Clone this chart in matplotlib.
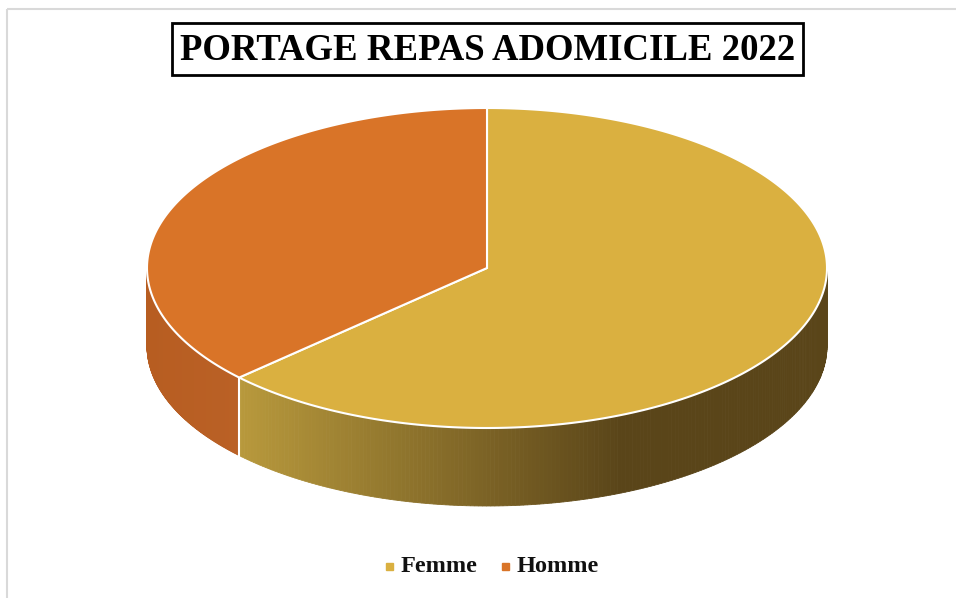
import numpy as np
import matplotlib
import matplotlib.pyplot as plt
from matplotlib.patches import Rectangle
from matplotlib.colors import to_rgb

matplotlib.use('agg')

# Données
labels = ['Femme', 'Homme']
values = [63, 37]
top_colors = ['#DAB040', '#D97428']
# couleurs des côtés (gauche -> droite)
side_colors = [('#B8993C', '#5A4519'), ('#B75D21', '#BA6126')]
title = 'PORTAGE REPAS ADOMICILE 2022'

W, H = 956, 598
fig = plt.figure(figsize=(W / 100, H / 100), dpi=100)
ax = fig.add_axes([0, 0, 1, 1])
ax.set_xlim(0, W)
ax.set_ylim(H, 0)
ax.axis('off')

# cadre gris du graphique
ax.add_patch(Rectangle((7.5, 8.5), 960, 620, fill=False, edgecolor='#D9D9D9', linewidth=1.5))

# géométrie de la tarte (ellipse)
cx, cy, a, b, depth = 487, 268, 340, 160, 78


def pt(theta):
    # angle en degrés, sens horaire depuis midi
    t = np.radians(theta)
    return cx + a * np.sin(t), cy - b * np.cos(t)


fracs = np.array(values) / np.sum(values)
bounds = np.concatenate([[0], np.cumsum(fracs) * 360])

# côtés visibles (90° -> 270°), avec dégradé
for i in range(len(values)):
    t0 = max(bounds[i], 90)
    t1 = min(bounds[i + 1], 270)
    if t1 <= t0:
        continue
    c_left, c_right = np.array(to_rgb(side_colors[i][0])), np.array(to_rgb(side_colors[i][1]))
    ts = np.linspace(t0, t1, 200)
    xs_all = [pt(t)[0] for t in ts]
    xmin, xmax = min(xs_all), max(xs_all)
    for k in range(len(ts) - 1):
        xa, ya = pt(ts[k])
        xb, yb = pt(ts[k + 1])
        xm = (xa + xb) / 2
        f = (xm - xmin) / (xmax - xmin) if xmax > xmin else 0
        if i == 0:
            f = min(1, f / 0.65)
        col = c_left * (1 - f) + c_right * f
        ax.fill([xa, xb, xb, xa], [ya, yb, yb + depth, ya + depth],
                color=col, linewidth=0.6, edgecolor=col, zorder=2)
    # arête verticale entre les parts
    if 90 < bounds[i] < 270:
        x0, y0 = pt(bounds[i])
        ax.plot([x0, x0], [y0, y0 + depth], color='white', lw=1.5, zorder=3)

# dessus
for i in range(len(values)):
    ts = np.linspace(bounds[i], bounds[i + 1], 300)
    xs = [cx] + [pt(t)[0] for t in ts]
    ys = [cy] + [pt(t)[1] for t in ts]
    ax.fill(xs, ys, color=top_colors[i], edgecolor='white', linewidth=1.5, zorder=4)

# titre
ax.add_patch(Rectangle((172, 23), 631, 52, facecolor='white', edgecolor='black', linewidth=2, zorder=5))
ax.text(488, 50, title, ha='center', va='center', fontsize=26.5, fontweight='bold',
        family='Liberation Serif', color='black', zorder=6)

# légende
lx = [389, 505]
for i in range(len(labels)):
    ax.add_patch(Rectangle((lx[i] - 3, 563), 7, 7, color=top_colors[i], zorder=5))
    ax.text(lx[i] + 12, 566, labels[i], ha='left', va='center', fontsize=17.5,
            fontweight='bold', family='Liberation Serif', color='#111111')

fig.savefig('out.png', dpi=100)
